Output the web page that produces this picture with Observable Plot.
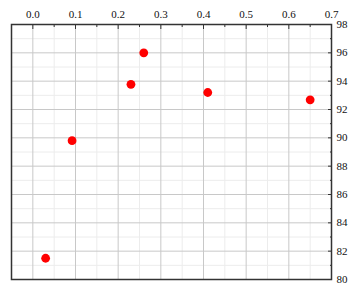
<!DOCTYPE html>
<html><head><meta charset="utf-8">
<script src="https://cdn.jsdelivr.net/npm/d3@7"></script>
<script src="https://cdn.jsdelivr.net/npm/@observablehq/plot@0.6"></script>
<style>body{margin:0;background:#fff}</style>
</head><body><div id="chart"></div>
<script>
const xValues = [0.03, 0.092, 0.23, 0.26, 0.41, 0.65];
const yValues = [81.5, 89.8, 93.78, 96.0, 93.2, 92.68];
const xMajor = [0, 0.1, 0.2, 0.3, 0.4, 0.5, 0.6, 0.7];
const xMinor = [0.05, 0.15, 0.25, 0.35, 0.45, 0.55, 0.65];
const yMajor = [80, 82, 84, 86, 88, 90, 92, 94, 96, 98];
const yMinor = [81, 83, 85, 87, 89, 91, 93, 95, 97];
const pts = xValues.map((x, i) => ({x, y: yValues[i]}));

const chart = Plot.plot({
  width: 357, height: 292,
  marginLeft: 11, marginRight: 26, marginTop: 24, marginBottom: 13,
  style: {fontFamily: "'Liberation Serif', serif", fontSize: "11px", color: "#111", background: "#fff"},
  x: {domain: [-0.05, 0.7]},
  y: {domain: [80, 98]},
  marks: [
    Plot.ruleX(xMinor, {stroke: "#ececec"}),
    Plot.ruleY(yMinor, {stroke: "#ececec"}),
    Plot.ruleX(xMajor, {stroke: "#c8c8c8"}),
    Plot.ruleY(yMajor, {stroke: "#c8c8c8"}),
    Plot.axisX(xMinor, {anchor: "top", tickSize: -2, tickFormat: () => "", label: null, stroke: "#333"}),
    Plot.axisX(xMajor, {anchor: "top", tickSize: -4, tickPadding: 11, tickFormat: d3.format(".1f"), label: null, stroke: "#333"}),
    Plot.axisY(yMinor, {anchor: "right", tickSize: -2, tickFormat: () => "", label: null, stroke: "#333"}),
    Plot.axisY(yMajor, {anchor: "right", tickSize: -4, tickPadding: 9, tickFormat: d3.format("d"), label: null, stroke: "#333"}),
    Plot.frame({stroke: "#333", strokeWidth: 1.5}),
    Plot.dot(pts, {x: "x", y: "y", r: 4.4, fill: "#ff0000", stroke: "none"})
  ]
});
document.getElementById("chart").appendChild(chart);
</script></body></html>
